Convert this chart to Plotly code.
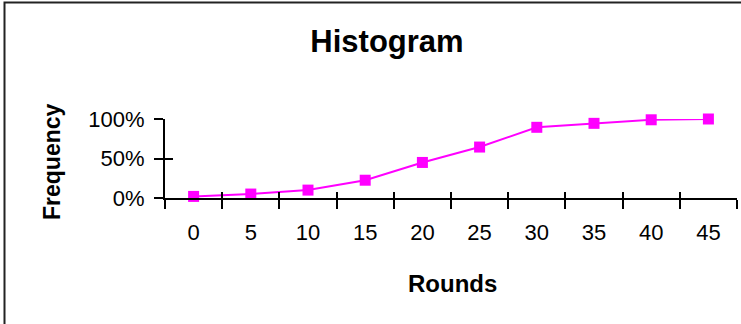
import plotly.graph_objects as go

rounds = ["0", "5", "10", "15", "20", "25", "30", "35", "40", "45"]
frequency = [0.02, 0.05, 0.10, 0.225, 0.45, 0.645, 0.895, 0.945, 0.99, 1.0]
y_ticks = [0, 0.5, 1.0]
y_tick_labels = ["0%", "50%", "100%"]

MAGENTA = "#FF00FF"
FONT = "Liberation Sans, Arial, sans-serif"

fig = go.Figure()
fig.add_trace(go.Scatter(
    x=rounds, y=frequency, mode="lines+markers",
    line=dict(color=MAGENTA, width=2),
    marker=dict(symbol="square", size=11, color=MAGENTA),
    cliponaxis=False, showlegend=False,
))
# invisible copy on overlay axes, only used to draw the inner half of the cross ticks
fig.add_trace(go.Scatter(
    x=list(range(len(rounds))), y=frequency, mode="lines",
    line=dict(width=0), xaxis="x2", yaxis="y2",
    hoverinfo="skip", showlegend=False,
))

fig.update_layout(
    width=741, height=324,
    margin=dict(l=165, r=4, t=119, b=126),
    paper_bgcolor="white", plot_bgcolor="white",
    font=dict(family=FONT, color="black", size=22),
    title=dict(text="<b>Histogram</b>", x=387 / 741, xanchor="center",
               y=1 - 41 / 324, yanchor="middle", yref="container",
               font=dict(size=31, family=FONT, color="black")),
    xaxis=dict(type="category", range=[-0.5, 9.5], tickson="boundaries",
               ticks="outside", ticklen=9, tickwidth=2, tickcolor="black",
               showline=True, linewidth=2, linecolor="black",
               showgrid=False, zeroline=False, ticklabelstandoff=14,
               tickfont=dict(size=22)),
    yaxis=dict(range=[0, 1], tickvals=y_ticks, ticktext=y_tick_labels,
               ticks="outside", ticklen=9, tickwidth=2, tickcolor="black",
               showline=True, linewidth=2, linecolor="black",
               showgrid=False, zeroline=False, ticklabelstandoff=5,
               tickfont=dict(size=22)),
    xaxis2=dict(overlaying="x", range=[-0.5, 9.5], tick0=-0.5, dtick=1,
                ticks="inside", ticklen=6, tickwidth=2, tickcolor="black",
                showticklabels=False, showgrid=False, zeroline=False,
                showline=False),
    yaxis2=dict(overlaying="y", range=[0, 1], tickvals=y_ticks,
                ticks="inside", ticklen=8, tickwidth=2, tickcolor="black",
                showticklabels=False, showgrid=False, zeroline=False,
                showline=False),
    annotations=[
        dict(text="<b>Rounds</b>", xref="paper", yref="paper",
             x=(452 - 165) / 572, y=(198 - 283) / 79,
             xanchor="center", yanchor="middle", showarrow=False,
             font=dict(size=24, family=FONT, color="black")),
        dict(text="<b>Frequency</b>", xref="paper", yref="paper",
             x=(52 - 165) / 572, y=(198 - 162) / 79, textangle=-90,
             xanchor="center", yanchor="middle", showarrow=False,
             font=dict(size=23, family=FONT, color="black")),
    ],
    shapes=[dict(type="rect", xref="paper", yref="paper",
                 x0=(4.5 - 165) / 572, x1=1.05,
                 y0=-1.8, y1=(198 - 2.5) / 79,
                 line=dict(color="#222222", width=2))],
)

fig.write_html("out.html", config={"displayModeBar": False},
               post_script="document.body.style.margin='0';")
